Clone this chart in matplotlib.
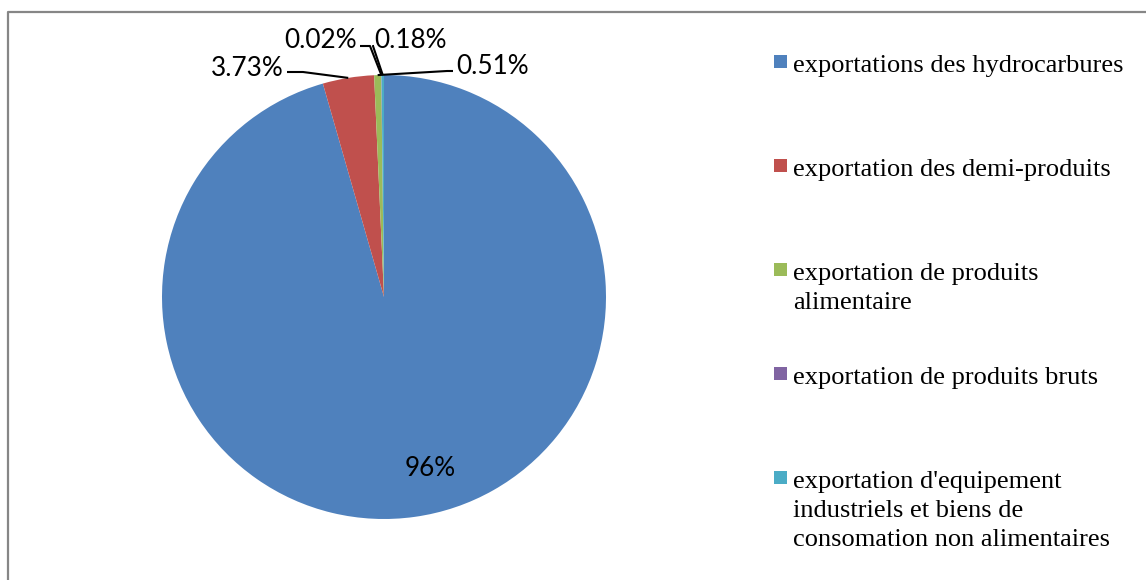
import matplotlib
matplotlib.use("Agg")
import numpy as np
import matplotlib.pyplot as plt
from matplotlib.patches import Rectangle
from matplotlib.lines import Line2D

# data (share of exports, %)
categories = [
    "exportations des hydrocarbures",
    "exportation des demi-produits",
    "exportation de produits\nalimentaire",
    "exportation de produits bruts",
    "exportation d'equipement\nindustriels et biens de\nconsomation non alimentaires",
]
values = [95.56, 3.73, 0.51, 0.02, 0.18]
value_labels = ["96%", "3.73%", "0.51%", "0.02%", "0.18%"]
colors = ["#4F81BD", "#C0504D", "#9BBB59", "#8064A2", "#4BACC6"]

W, H = 1146, 580
fig = plt.figure(figsize=(W / 100, H / 100), dpi=100)


def fx(px):
    return px / W


def fy(py):
    return 1 - py / H


# chart border (left and top edges visible)
fig.add_artist(Line2D([fx(8), fx(8), 1], [0, fy(12), fy(12)],
                      color="#868686", lw=1.6, transform=fig.transFigure))

# pie: centre (384, 297) px, radius 222 px
cx, cy, r = 384, 297, 222
ax = fig.add_axes([fx(cx - r), fy(cy + r), 2 * r / W, 2 * r / H])
wedges, _ = ax.pie(values, colors=colors, startangle=90, counterclock=False,
                   radius=1, wedgeprops=dict(linewidth=0))
ax.set_xlim(-1, 1)
ax.set_ylim(-1, 1)
ax.set_aspect("auto")
ax.axis("off")


def to_data(px, py):
    return (px - cx) / r, (cy - py) / r


label_font = dict(family="Lato", fontsize=18.8, color="black")

# label for the big slice, inside
ax.text(*to_data(430, 469), value_labels[0], ha="center", va="center",
        **label_font)

# outside labels: text position, elbow point, text alignment (px)
outside = {
    1: ((284, 68), (303, 72), "right"),
    3: ((357, 41), (370, 46), "right"),
    4: ((374, 41), (373, 46), "left"),
    2: ((456, 67), (447, 71), "left"),
}
for i, ((tx, ty), (ex, ey), ha) in outside.items():
    w = wedges[i]
    mid = np.deg2rad((w.theta1 + w.theta2) / 2)
    sx, sy = np.cos(mid), np.sin(mid)
    ax.text(*to_data(tx, ty), value_labels[i], ha=ha, va="center",
            clip_on=False, **label_font)
    if i == 4:
        start = to_data(tx, ey)
    elif ha == "right":
        start = to_data(tx + 3, ey)
    else:
        start = to_data(tx - 3, ey)
    ex_d, ey_d = to_data(ex, ey)
    ax.plot([start[0], ex_d, sx], [start[1], ey_d, sy], color="black",
            lw=1.5, clip_on=False, solid_capstyle="butt")

# legend drawn by hand: one entry every ~104 px
leg_x, leg_y0, leg_step = 774, 63, 104
for i, (lab, col) in enumerate(zip(categories, colors)):
    y = leg_y0 + i * leg_step
    fig.add_artist(Rectangle((fx(leg_x), fy(y + 5)), 13 / W, 13 / H,
                             facecolor=col, edgecolor="none",
                             transform=fig.transFigure))
    fig.text(fx(leg_x + 19), fy(y - 8), lab, ha="left", va="top",
             family="Liberation Serif", fontsize=19, linespacing=1.42)

fig.savefig("out.png", dpi=100)
